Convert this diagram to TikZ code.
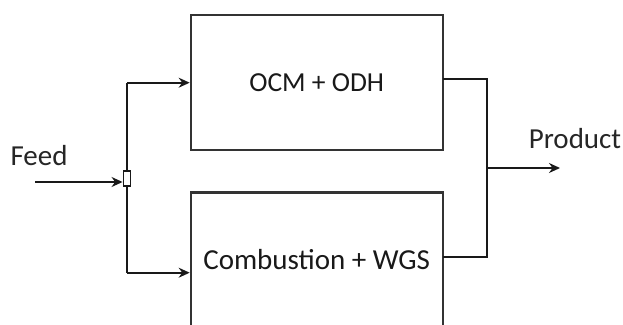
\documentclass[tikz,border=0pt]{standalone}
\usepackage{fontspec}
\setmainfont{Carlito}
\usetikzlibrary{arrows.meta}
\begin{document}
\begin{tikzpicture}[x=1pt,y=-1pt,
  reactor/.style={draw=black!80,line width=2.1pt,minimum width=252pt,minimum height=135pt,inner sep=0pt,text=black!90},
  splitbox/.style={draw=black!90,line width=1.4pt,fill=white,minimum width=7.5pt,minimum height=15pt,inner sep=0pt},
  stream/.style={draw=black!90,line width=1.7pt},
  flow/.style={stream,-{Stealth[length=11pt,width=10pt]}},
  label/.style={font=\fontsize{29}{32}\selectfont,text=black!85,inner sep=0pt,anchor=base}]
\useasboundingbox (0,0) rectangle (623,324);
\begin{scope}
\clip (0,0) rectangle (623,324);
% the two parallel reactors
\node[reactor,font=\fontsize{27.5}{30}\selectfont] (ocm) at (316.7,82.5) {OCM + ODH};
\node[reactor,font=\fontsize{29}{32}\selectfont] (comb) at (316.7,260) {Combustion + WGS};
% feed splitter
\node[splitbox] (split) at (127,178.5) {};
\coordinate (feedin) at (35,182);
\coordinate (toptap) at (127,82.7);
\coordinate (bottap) at (127,272.7);
\coordinate (combout) at (442.7,257);
\coordinate (ocmout) at (442.7,79);
\coordinate (collect) at (487,168);
\coordinate (prodout) at (560,168);
% streams
\draw[flow] (feedin) -- (split.west |- feedin);
\draw[stream] (split.north) -- (toptap);
\draw[flow] (toptap) -- (ocm.west |- toptap);
\draw[stream] (split.south) -- (bottap);
\draw[flow] (bottap) -- (comb.west |- bottap);
\draw[stream] (ocmout) -| (collect);
\draw[stream] (combout) -| (collect);
\draw[flow] (collect) -- (prodout);
% labels
\node[label] (feed) at (39,165) {Feed};
\node[label] (prod) at (575,148) {Product};
\end{scope}
\end{tikzpicture}
\end{document}
